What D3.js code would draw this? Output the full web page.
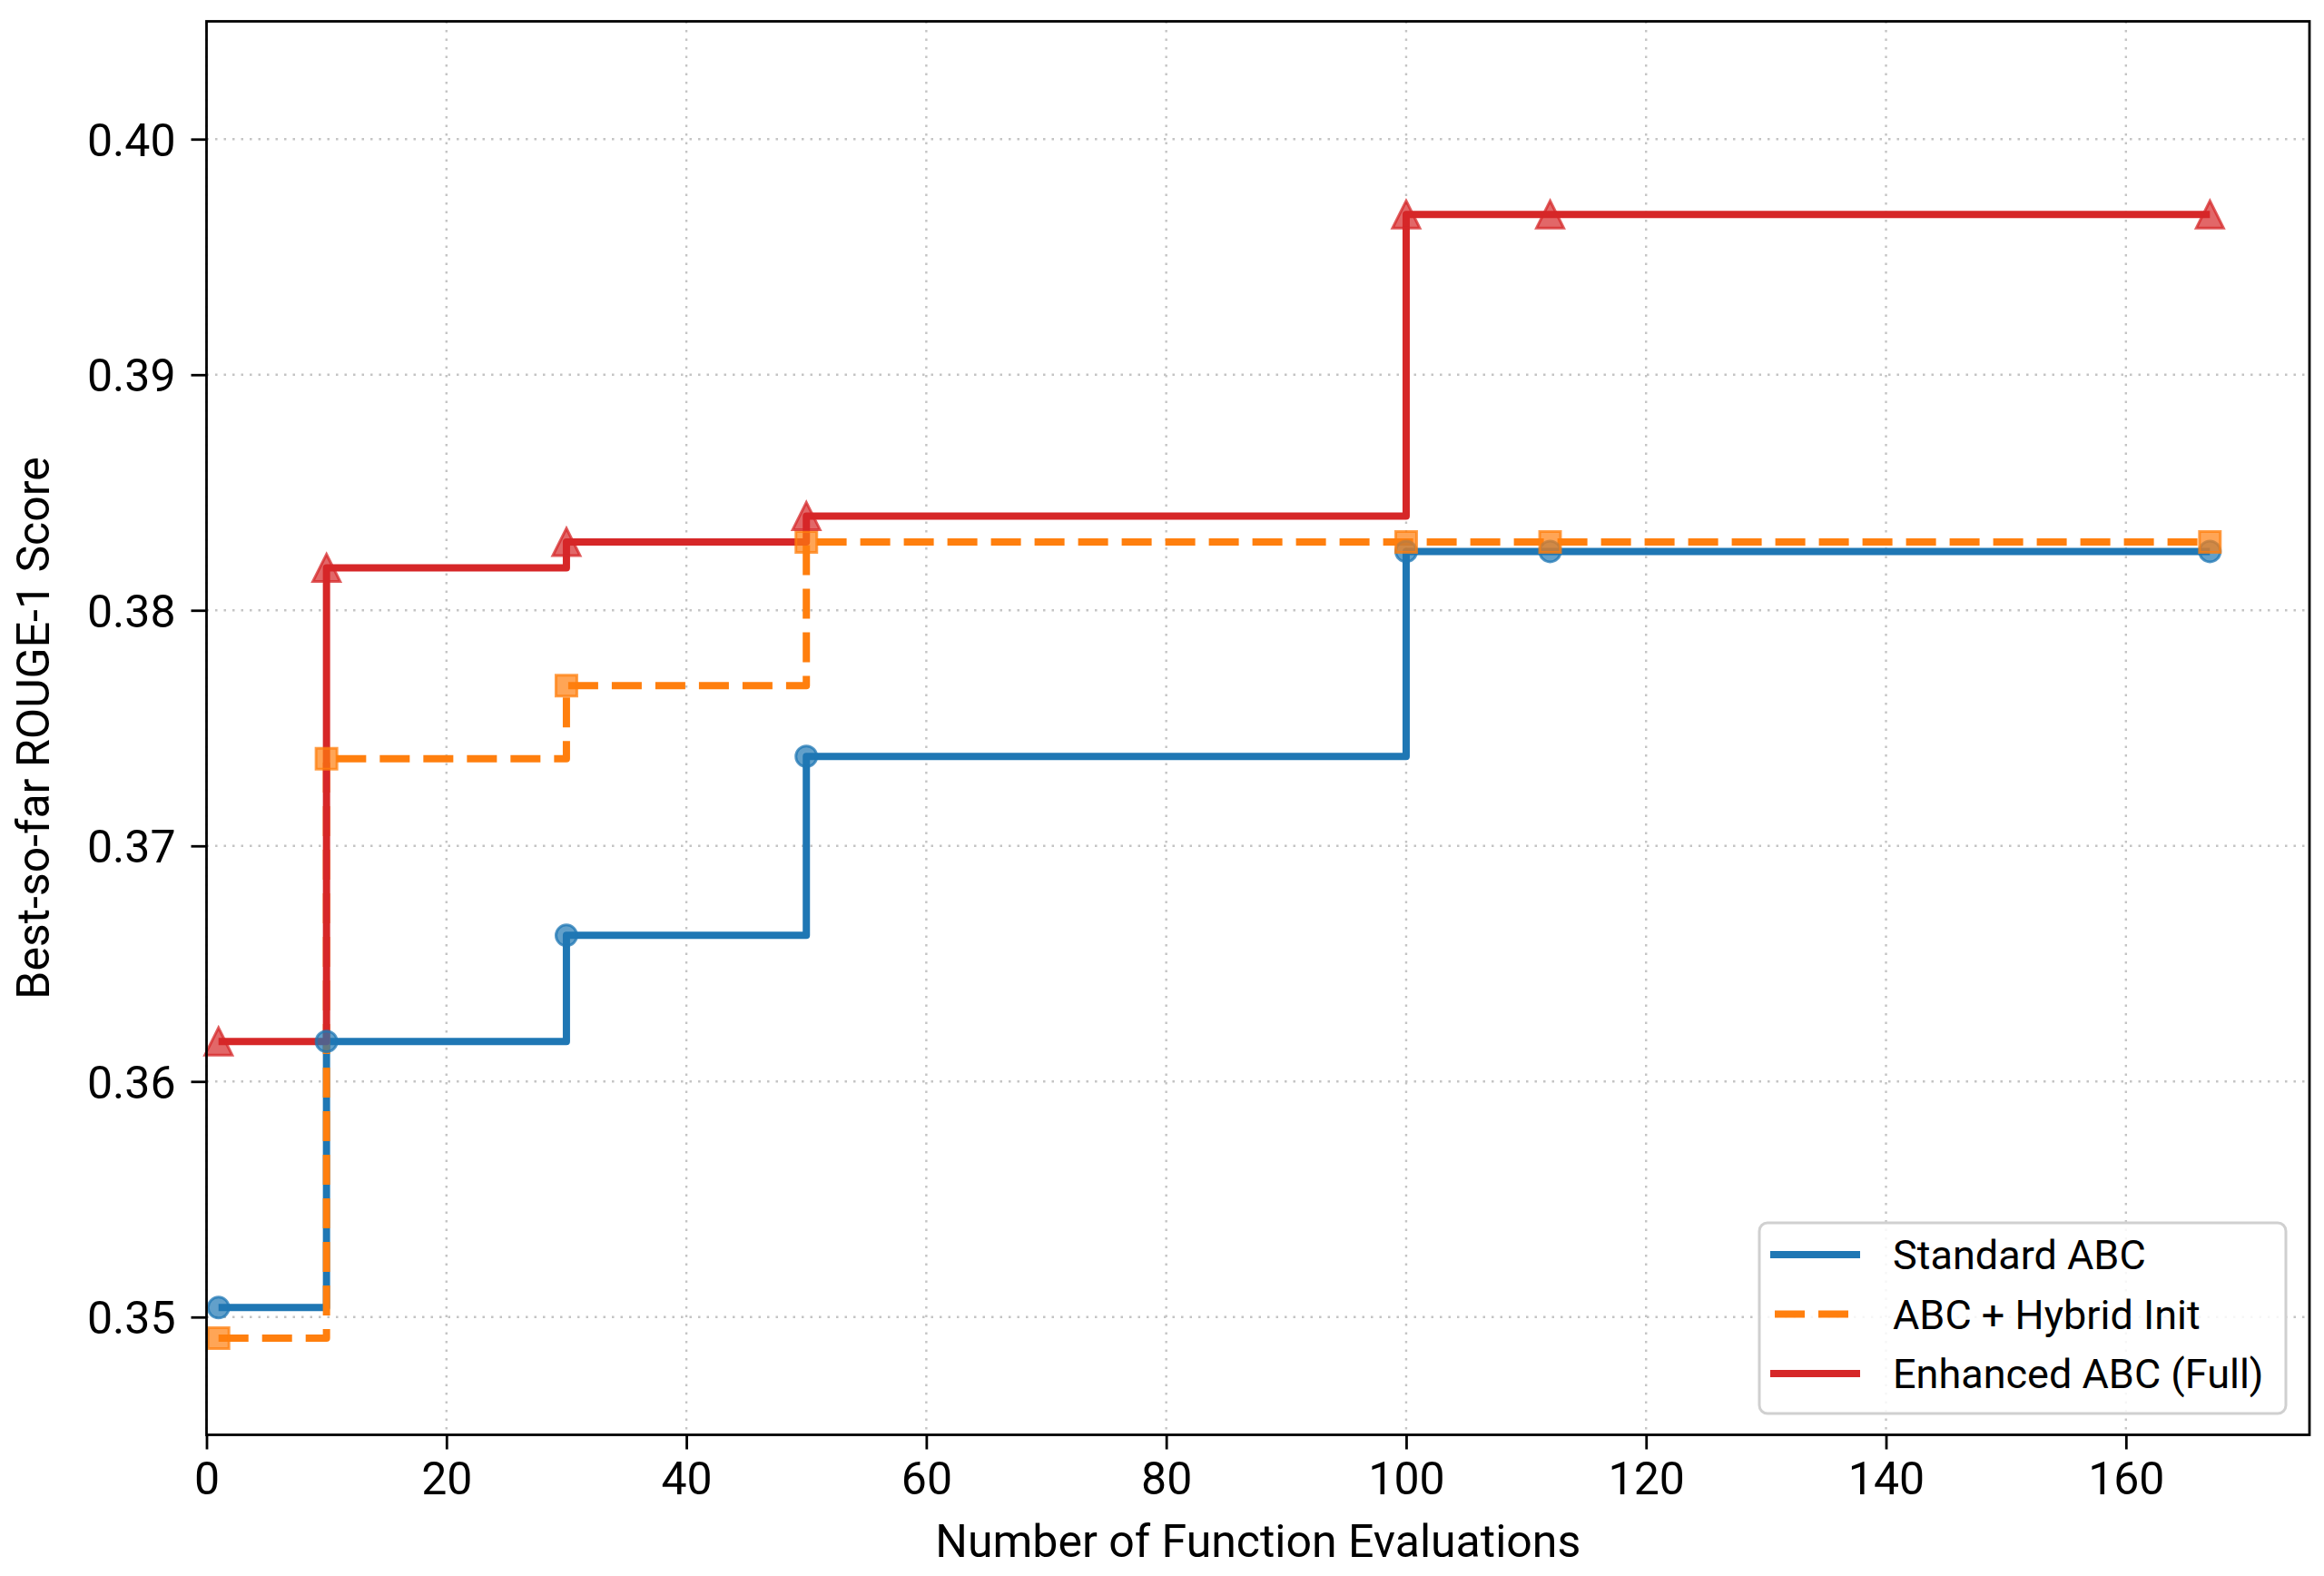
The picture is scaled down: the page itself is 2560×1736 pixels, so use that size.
<!DOCTYPE html>
<html>
<head>
<meta charset="utf-8">
<script src="https://cdn.jsdelivr.net/npm/d3@7"></script>
<style>
  html, body { margin: 0; padding: 0; background: #fff; }
  svg { display: block; font-family: Roboto, "Noto Sans", sans-serif; }
</style>
</head>
<body>
<svg id="chart" width="2560" height="1736"></svg>
<script>
// best-so-far ROUGE-1 per number of function evaluations
const evals = [1, 10, 30, 50, 100, 112, 167];
const standardABC = [0.3504, 0.3617, 0.3662, 0.3738, 0.3825, 0.3825, 0.3825];
const hybridInit = [0.3491, 0.3737, 0.3768, 0.3829, 0.3829, 0.3829, 0.3829];
const enhancedABC = [0.3617, 0.3818, 0.3829, 0.3840, 0.3968, 0.3968, 0.3968];

const seriesNames = ["Standard ABC", "ABC + Hybrid Init", "Enhanced ABC (Full)"];
const xTicks = [0, 20, 40, 60, 80, 100, 120, 140, 160];
const yTicks = [0.35, 0.36, 0.37, 0.38, 0.39, 0.40];

const series = [
  { name: seriesNames[0], values: standardABC, color: "#1f77b4", dash: null, marker: "circle" },
  { name: seriesNames[1], values: hybridInit, color: "#ff7f0e", dash: "33,15", marker: "square" },
  { name: seriesNames[2], values: enhancedABC, color: "#d62728", dash: null, marker: "triangle" }
];

const margin = { top: 23.5, right: 16, bottom: 155.5, left: 227.5 };
const W = 2560, H = 1736;
const width = W - margin.left - margin.right;
const height = H - margin.top - margin.bottom;

const svg = d3.select("#chart");
const g = svg.append("g").attr("transform", `translate(${margin.left},${margin.top})`);

const x = d3.scaleLinear().domain([0, 175.3]).range([0, width]);
const y = d3.scaleLinear().domain([0.345, 0.405]).range([height, 0]);

// grid
const grid = g.append("g").attr("class", "grid");
grid.selectAll(".gx").data(xTicks).join("line")
  .attr("x1", d => x(d)).attr("x2", d => x(d))
  .attr("y1", 0).attr("y2", height)
  .attr("stroke", "#c4c4c4").attr("stroke-width", 2.4)
  .attr("stroke-dasharray", "2.5,7");
grid.selectAll(".gy").data(yTicks).join("line")
  .attr("y1", d => y(d)).attr("y2", d => y(d))
  .attr("x1", 0).attr("x2", width)
  .attr("stroke", "#c4c4c4").attr("stroke-width", 2.4)
  .attr("stroke-dasharray", "2.5,7");

// step lines
const line = d3.line()
  .x(d => x(d[0]))
  .y(d => y(d[1]))
  .curve(d3.curveStepAfter);

series.forEach(s => {
  g.append("path")
    .datum(evals.map((e, i) => [e, s.values[i]]))
    .attr("fill", "none")
    .attr("stroke", s.color)
    .attr("stroke-width", 8)
    .attr("stroke-linejoin", "round")
    .attr("stroke-dasharray", s.dash)
    .attr("d", line);
});

// markers
const markerPath = type => {
  if (type === "circle") return d3.symbol(d3.symbolCircle, Math.PI * 11.5 * 11.5)();
  if (type === "square") return "M-11.5,-11.5H11.5V11.5H-11.5Z";
  return "M0,-15L15,15L-15,15Z";
};

series.forEach(s => {
  g.append("g").selectAll("path")
    .data(evals.map((e, i) => [e, s.values[i]]))
    .join("path")
    .attr("transform", d => `translate(${x(d[0])},${y(d[1])})`)
    .attr("d", markerPath(s.marker))
    .attr("fill", s.color)
    .attr("stroke", s.color)
    .attr("stroke-width", 3)
    .attr("fill-opacity", 0.7)
    .attr("stroke-opacity", 0.75);
});

// axes
const xAxis = g.append("g")
  .attr("transform", `translate(0,${height})`)
  .call(d3.axisBottom(x).tickValues(xTicks).tickFormat(d3.format("d")).tickSize(16).tickPadding(14));
const yAxis = g.append("g")
  .call(d3.axisLeft(y).tickValues(yTicks).tickFormat(d3.format(".2f")).tickSize(17).tickPadding(17));

[xAxis, yAxis].forEach(a => {
  a.select(".domain").remove();
  a.selectAll(".tick line").attr("stroke", "#000").attr("stroke-width", 2.8);
  a.selectAll(".tick text")
    .attr("fill", "#000")
    .style("font-size", "50px")
    .style("font-family", "Roboto, sans-serif");
});
yAxis.selectAll(".tick text").attr("dy", "0.36em");

// frame
g.append("rect")
  .attr("width", width).attr("height", height)
  .attr("fill", "none").attr("stroke", "#000").attr("stroke-width", 2.8);

// axis labels
svg.append("text")
  .attr("x", margin.left + width / 2)
  .attr("y", 1715)
  .attr("text-anchor", "middle")
  .style("font-size", "50px")
  .text("Number of Function Evaluations");

svg.append("text")
  .attr("transform", `translate(54,${margin.top + height / 2}) rotate(-90)`)
  .attr("text-anchor", "middle")
  .style("font-size", "50px")
  .text("Best-so-far ROUGE-1 Score");

// legend
const legend = svg.append("g").attr("transform", "translate(1938,1347)");
legend.append("rect")
  .attr("width", 580).attr("height", 210)
  .attr("rx", 9).attr("ry", 9)
  .attr("fill", "#fff").attr("fill-opacity", 0.85)
  .attr("stroke", "#d0d0d0").attr("stroke-width", 3);

const rows = legend.selectAll(".row").data(series).join("g")
  .attr("transform", (d, i) => `translate(0,${35 + i * 65.5})`);
rows.append("line")
  .attr("x1", d => d.dash ? 17 : 12).attr("x2", 111)
  .attr("stroke", d => d.color)
  .attr("stroke-width", 8)
  .attr("stroke-dasharray", d => d.dash);
rows.append("text")
  .attr("x", 147)
  .attr("dy", "0.36em")
  .style("font-size", "45px")
  .text(d => d.name);
</script>
</body>
</html>
